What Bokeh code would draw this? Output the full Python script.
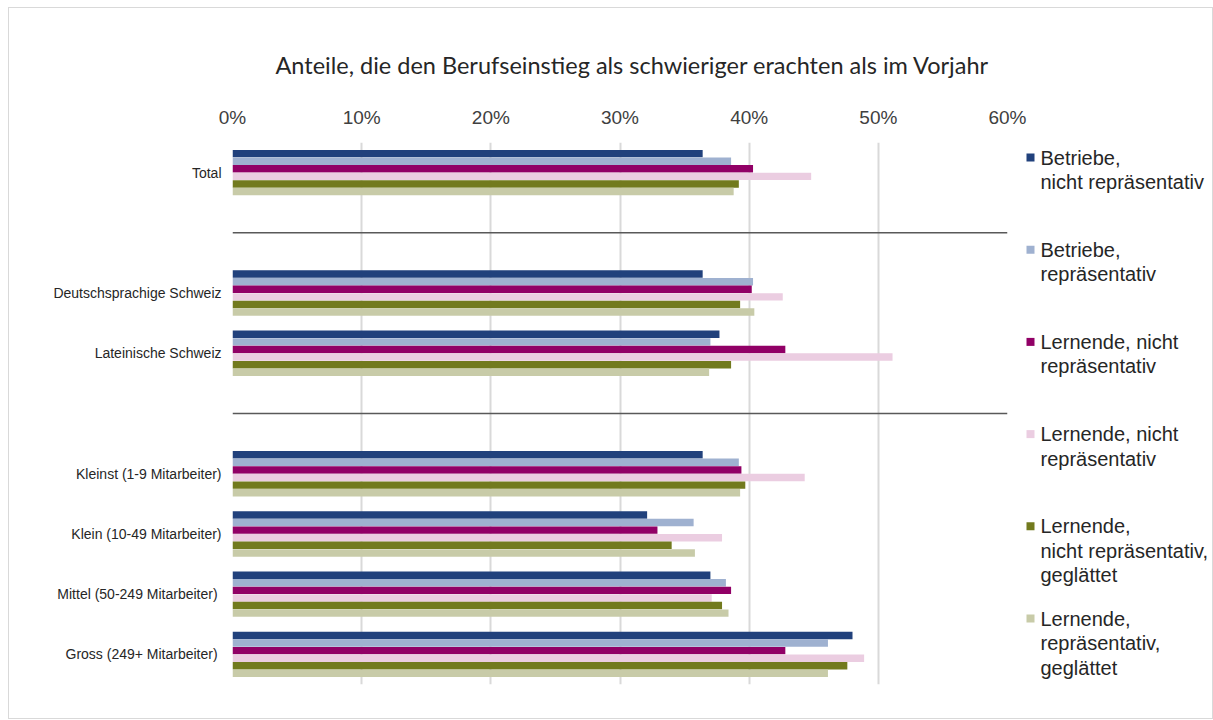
from bokeh.plotting import figure
from bokeh.layouts import row
from bokeh.models import Range1d, FixedTicker, Span
from bokeh.core.properties import value
from bokeh.embed import file_html
from bokeh.resources import INLINE

# ---------------- data ----------------
title_text = "Anteile, die den Berufseinstieg als schwieriger erachten als im Vorjahr"

groups = [
    ["Total"],
    ["Deutschsprachige Schweiz", "Lateinische Schweiz"],
    ["Kleinst (1-9 Mitarbeiter)", "Klein (10-49 Mitarbeiter)",
     "Mittel  (50-249 Mitarbeiter)", "Gross  (249+ Mitarbeiter)"],
]

series_labels = [
    "Betriebe,\nnicht repräsentativ",
    "Betriebe,\nrepräsentativ",
    "Lernende, nicht\nrepräsentativ",
    "Lernende, nicht\nrepräsentativ",
    "Lernende,\nnicht repräsentativ,\ngeglättet",
    "Lernende,\nrepräsentativ,\ngeglättet",
]

betriebe_nicht_repr = [36.4, 36.4, 37.7, 36.4, 32.1, 37.0, 48.0]
betriebe_repr = [38.6, 40.3, 37.0, 39.2, 35.7, 38.2, 46.1]
lernende_nicht_repr = [40.3, 40.2, 42.8, 39.4, 32.9, 38.6, 42.8]
lernende_nicht_repr_2 = [44.8, 42.6, 51.1, 44.3, 37.9, 37.1, 48.9]
lernende_nicht_repr_gegl = [39.2, 39.3, 38.6, 39.7, 34.0, 37.9, 47.6]
lernende_repr_gegl = [38.8, 40.4, 36.9, 39.3, 35.8, 38.4, 46.1]

series_values = [betriebe_nicht_repr, betriebe_repr, lernende_nicht_repr,
                 lernende_nicht_repr_2, lernende_nicht_repr_gegl, lernende_repr_gegl]

colors = ["#21417c", "#9fb1d0", "#910066", "#ebcde1", "#727a1e", "#c8cba8"]

tick_values = [0, 10, 20, 30, 40, 50, 60]
tick_labels = ["0%", "10%", "20%", "30%", "40%", "50%", "60%"]

# ------------- layout of categories (slots with gaps) -------------
categories = []
positions = []
separators = []
slot = 0
for gi, g in enumerate(groups):
    for c in g:
        categories.append(c)
        positions.append(slot)
        slot += 1
    if gi < len(groups) - 1:
        separators.append(slot)
        slot += 1
n_slots = slot

H = 710
B_TOP, B_BOT = 134, 34
FRAME_H = H - B_TOP - B_BOT
OVERLAP = 30

p = figure(width=998 + 2 + OVERLAP, height=H, output_backend="svg",
           toolbar_location=None,
           x_range=Range1d(0, 60), y_range=Range1d(n_slots - 0.5, -0.5),
           x_axis_location="above", min_border_left=223,
           min_border_right=2 + OVERLAP,
           min_border_top=B_TOP, min_border_bottom=B_BOT)
p.outline_line_color = None
p.background_fill_color = "white"
p.border_fill_color = "white"

# title
p.title.text = title_text
p.title.align = "left"
p.title.offset = 43
p.title.text_font = "Lato"
p.title.text_font_size = "23.5px"
p.title.text_font_style = "normal"
p.title.text_color = "#262626"
p.title.standoff = 49

# x axis
xa = p.xaxis[0]
xa.ticker = FixedTicker(ticks=tick_values)
xa.major_label_overrides = {v: l for v, l in zip(tick_values, tick_labels)}
xa.axis_line_color = None
xa.major_tick_line_color = None
xa.minor_tick_line_color = None
xa.major_label_text_font = "Liberation Sans"
xa.major_label_text_font_size = "19px"
xa.major_label_text_color = "#404040"
xa.major_label_standoff = 9

p.xgrid.ticker = FixedTicker(ticks=tick_values)
p.xgrid.grid_line_color = "#d9d9d9"
p.xgrid.grid_line_width = 2
p.ygrid.grid_line_color = None

# y axis
ya = p.yaxis[0]
ya.ticker = FixedTicker(ticks=positions)
ya.major_label_overrides = {pos: c for pos, c in zip(positions, categories)}
ya.axis_line_color = None
ya.major_tick_line_color = None
ya.minor_tick_line_color = None
ya.major_label_text_font = "Liberation Sans"
ya.major_label_text_font_size = "14px"
ya.major_label_text_color = "#262626"
ya.major_label_standoff = 5

# bars
n = len(series_values)
step = 0.126
for i, (vals, col) in enumerate(zip(series_values, colors)):
    off = (i - (n - 1) / 2) * step
    ys = [pos + off for pos in positions]
    p.hbar(y=ys, left=0, right=vals, height=step * 0.98, fill_color=col,
           line_color=None)

# separators
for s in separators:
    p.add_layout(Span(location=s, dimension="width", line_color="#595959",
                      line_width=1.5))

# ---------------- legend (separate transparent panel) ----------------
LW = 203
leg = figure(width=LW, height=H, output_backend="svg", toolbar_location=None,
             x_range=Range1d(0, LW), y_range=Range1d(FRAME_H, 0),
             min_border_left=0, min_border_right=0,
             min_border_top=B_TOP, min_border_bottom=B_BOT,
             styles={"margin-left": f"-{OVERLAP}px"})
leg.axis.visible = False
leg.grid.visible = False
leg.outline_line_color = None
leg.border_fill_alpha = 0
leg.background_fill_alpha = 0

legend_top = 15
item_gap = 92.2
line_gap = 24.5
marker_x = 21
text_x = 31
mx, my, mc = [], [], []
tx, ty, tt = [], [], []
for i, (lab, col) in enumerate(zip(series_labels, colors)):
    y0 = legend_top + i * item_gap
    mx.append(marker_x)
    my.append(y0)
    mc.append(col)
    for j, line in enumerate(lab.split("\n")):
        tx.append(text_x)
        ty.append(y0 + j * line_gap)
        tt.append(line)
leg.scatter(x=mx, y=my, marker="square", size=8, fill_color=mc, line_color=None)
leg.text(x=tx, y=ty, text=tt, text_font=value("Liberation Sans"),
         text_font_size="20px", text_color="#262626", text_baseline="middle",
         text_align="left")

layout = row(p, leg, styles={"border": "1px solid #d9d9d9",
                             "margin-left": "8px", "margin-top": "7px",
                             "background-color": "white"})

open("out.html", "w").write(file_html(layout, INLINE))
